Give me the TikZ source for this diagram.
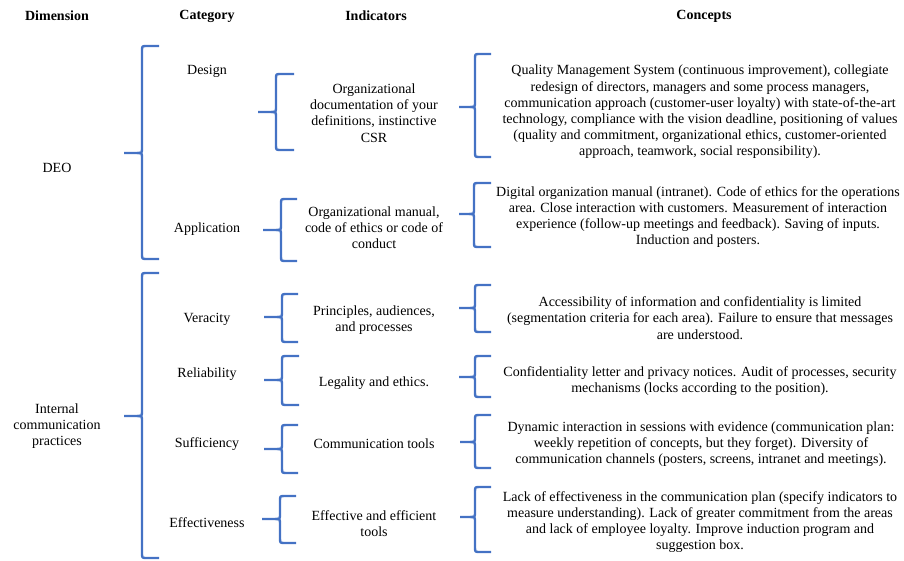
\documentclass[tikz,border=0pt]{standalone}
\usepackage{fontspec}
\setmainfont{Liberation Serif}
\definecolor{braceblue}{HTML}{4472C4}
\tikzset{
  bracestyle/.style={draw=braceblue, line width=2.4pt, line cap=butt, line join=round},
  hdr/.style={font=\fontsize{14}{16}\selectfont\bfseries, inner sep=0pt, anchor=center},
  txt/.style={font=\fontsize{14}{16.2}\selectfont, align=center, inner sep=0pt, anchor=center}
}
% #1 tip x, #2 vertical x, #3 end x, #4 top y, #5 tip y, #6 bottom y
\newcommand\cbrace[6]{%
  \draw[bracestyle] (#3,#4) -- ({#2+5},#4) .. controls (#2,#4) .. (#2,{#4+5})
     -- (#2,{#5-5}) .. controls (#2,#5) .. ({#2-5},#5) -- (#1,#5);
  \draw[bracestyle] ({#2-5},#5) .. controls (#2,#5) .. (#2,{#5+5})
     -- (#2,{#6-5}) .. controls (#2,#6) .. ({#2+5},#6) -- (#3,#6);
}
\begin{document}
\begin{tikzpicture}[x=1pt,y=-1pt]
\useasboundingbox (0,0) rectangle (904,561);
% headers
\node[hdr] (hdim) at (57,16) {Dimension};
\node[hdr] (hcat) at (207,16) {Category};
\node[hdr] (hind) at (376,16) {Indicators};
\node[hdr] (hcon) at (704,16) {Concepts};
% dimensions
\node[txt] (deo) at (57,168) {DEO};
\node[txt] (icp) at (57,426) {Internal\\communication\\practices};
% big braces
\cbrace{124}{142}{159}{46}{153}{259}
\cbrace{124}{142}{159}{273}{416}{558}
% categories
\node[txt] (cdes) at (207,71) {Design};
\node[txt] (capp) at (207,229) {Application};
\node[txt] (cver) at (207,319) {Veracity};
\node[txt] (crel) at (207,374) {Reliability};
\node[txt] (csuf) at (207,444) {Sufficiency};
\node[txt] (ceff) at (207,523) {Effectiveness};
% category braces
\cbrace{258}{276}{294}{74}{112}{150}
\cbrace{263}{281}{297}{199}{230}{261}
\cbrace{264}{282}{298}{294}{317}{342}
\cbrace{264}{282}{299}{356}{380}{405}
\cbrace{264}{282}{298}{425}{449}{473}
\cbrace{262}{280}{296}{496}{519}{543}
% indicators
\node[txt] (ides) at (374,113) {Organizational\\documentation of your\\definitions, instinctive\\CSR};
\node[txt] (iapp) at (374,228) {Organizational manual,\\code of ethics or code of\\conduct};
\node[txt] (iver) at (374,320) {Principles, audiences,\\and processes};
\node[txt] (irel) at (374,383) {Legality and ethics.};
\node[txt] (isuf) at (374,444) {Communication tools};
\node[txt] (ieff) at (374,524) {Effective and efficient\\tools};
% concept braces
\cbrace{459}{475}{491}{54}{107}{157}
\cbrace{459}{474}{491}{183}{214}{247}
\cbrace{459}{475}{491}{285}{308}{332}
\cbrace{459}{475}{491}{356}{377}{397}
\cbrace{460}{475}{491}{415}{442}{468}
\cbrace{460}{475}{491}{487}{517}{552}
% concepts
\node[txt] (kdes) at (700,112) {Quality Management System (continuous improvement), collegiate\\redesign of directors, managers and some process managers,\\communication approach (customer-user loyalty) with state-of-the-art\\technology, compliance with the vision deadline, positioning of values\\(quality and commitment, organizational ethics, customer-oriented\\approach, teamwork, social responsibility).};
\node[txt] (kapp) at (698,217) {Digital organization manual (intranet). Code of ethics for the operations\\area. Close interaction with customers. Measurement of interaction\\experience (follow-up meetings and feedback). Saving of inputs.\\Induction and posters.};
\node[txt] (kver) at (700,318) {Accessibility of information and confidentiality is limited\\(segmentation criteria for each area). Failure to ensure that messages\\are understood.};
\node[txt] (krel) at (700,381) {Confidentiality letter and privacy notices. Audit of processes, security\\mechanisms (locks according to the position).};
\node[txt] (ksuf) at (701,444) {Dynamic interaction in sessions with evidence (communication plan:\\weekly repetition of concepts, but they forget). Diversity of\\communication channels (posters, screens, intranet and meetings).};
\node[txt] (keff) at (700,522) {Lack of effectiveness in the communication plan (specify indicators to\\measure understanding). Lack of greater commitment from the areas\\and lack of employee loyalty. Improve induction program and\\suggestion box.};
\end{tikzpicture}
\end{document}
